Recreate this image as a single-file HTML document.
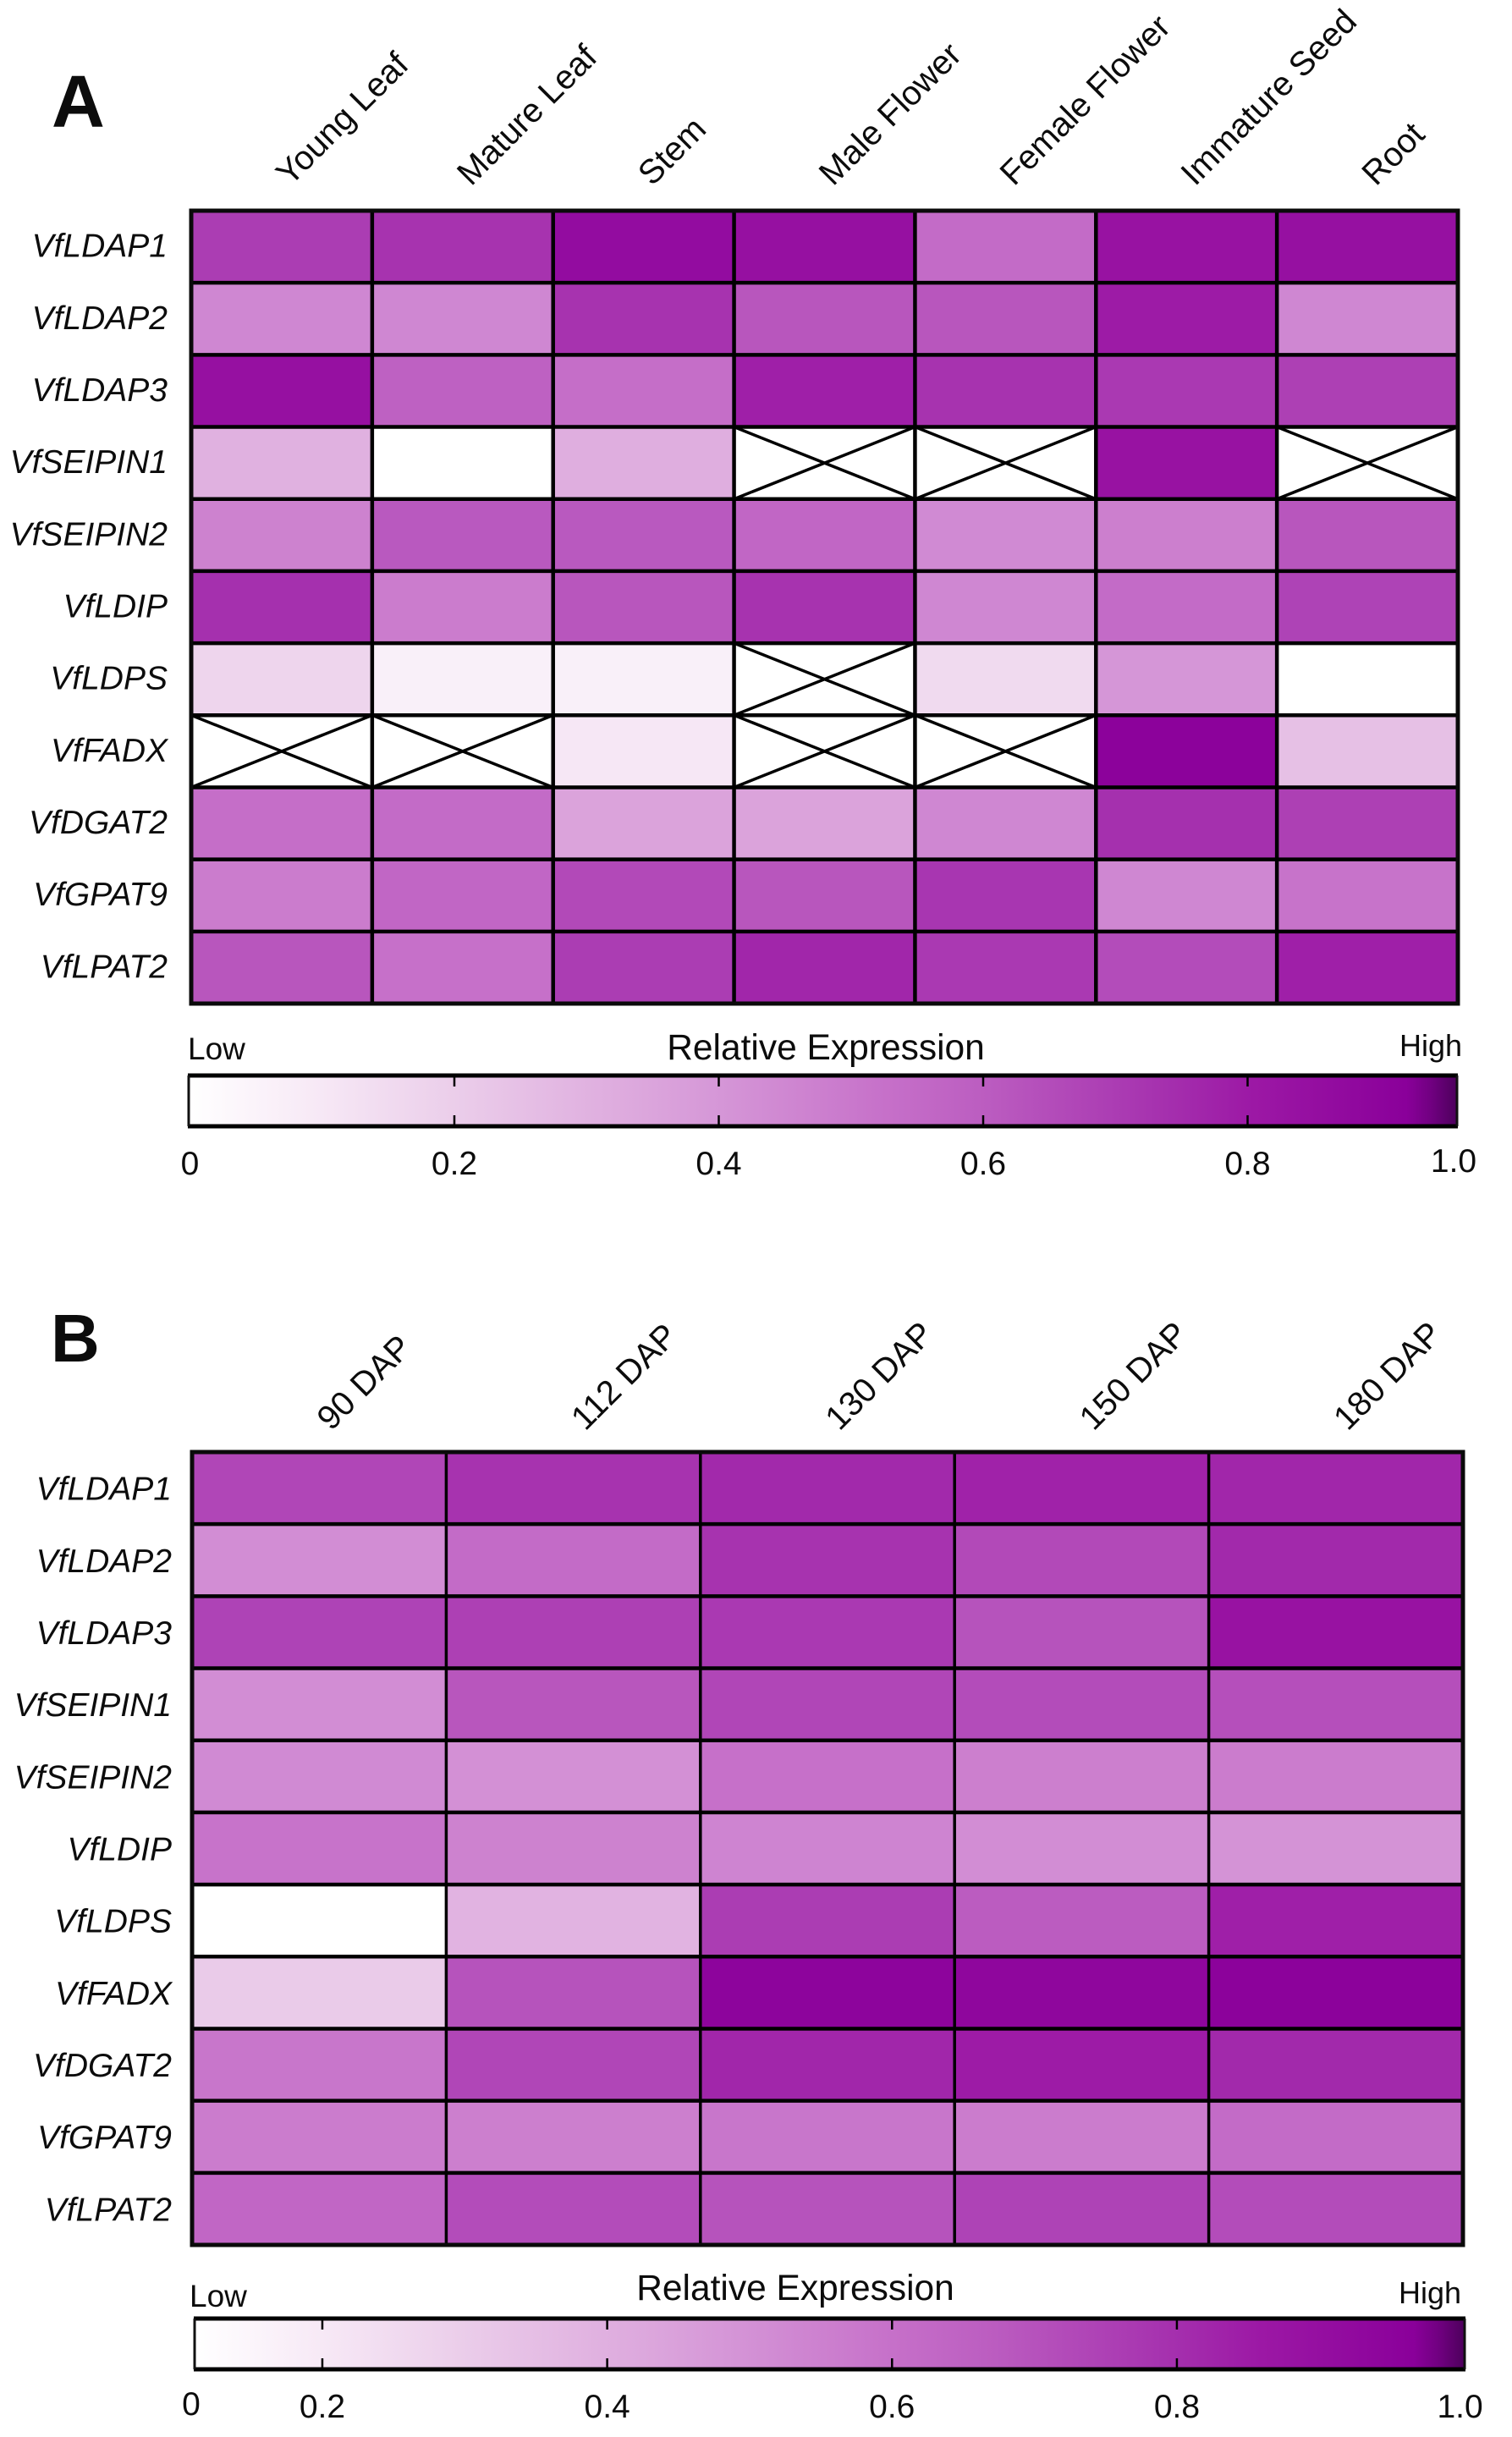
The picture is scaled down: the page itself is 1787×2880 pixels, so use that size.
<!DOCTYPE html>
<html lang="en">
<head>
<meta charset="utf-8">
<title>Relative expression heatmaps</title>
<style>
html,body{margin:0;padding:0;background:#fff;}
svg{display:block;}
text{font-family:"Liberation Sans",Arial,sans-serif;fill:#0c0c0c;}
</style>
</head>
<body>
<svg id="figure" xmlns="http://www.w3.org/2000/svg" width="1787" height="2880" viewBox="0 0 1787 2880">
  <rect x="0" y="0" width="1787" height="2880" fill="#fff"/>
  <defs>
    <linearGradient id="ramp" x1="0" x2="1" y1="0" y2="0"></linearGradient>
  </defs>
</svg>
<script>
const genes = ["VfLDAP1","VfLDAP2","VfLDAP3","VfSEIPIN1","VfSEIPIN2","VfLDIP","VfLDPS","VfFADX","VfDGAT2","VfGPAT9","VfLPAT2"];
const tissues = ["Young Leaf","Mature Leaf","Stem","Male Flower","Female Flower","Immature Seed","Root"];
const stages = ["90 DAP","112 DAP","130 DAP","150 DAP","180 DAP"];
const tissueValues = [
  [.73,.76,.90,.88,.57,.87,.88],
  [.47,.47,.76,.65,.65,.83,.47],
  [.88,.61,.56,.82,.76,.74,.72],
  [.32,0,.33,null,null,.87,null],
  [.49,.64,.64,.59,.46,.50,.65],
  [.77,.51,.65,.76,.47,.57,.71],
  [.18,.07,.07,null,.16,.42,0],
  [null,null,.11,null,null,.95,.26],
  [.56,.57,.37,.37,.47,.77,.72],
  [.51,.59,.69,.65,.75,.47,.54],
  [.65,.55,.73,.80,.74,.68,.82]
];
const stageValues = [
  [.70,.76,.79,.81,.80],
  [.45,.57,.76,.69,.79],
  [.71,.72,.74,.66,.87],
  [.45,.65,.70,.68,.67],
  [.46,.44,.55,.50,.51],
  [.54,.49,.48,.45,.43],
  [0,.31,.73,.63,.82],
  [.22,.66,.94,.93,.95],
  [.53,.70,.80,.83,.79],
  [.51,.50,.53,.51,.57],
  [.59,.68,.66,.71,.68]
];
const rampPositions = [0,.1,.2,.33,.42,.55,.63,.77,.84,.96,.98,1];
const rampColors = ["#ffffff","#f7e9f6","#ecd0eb","#dfaedf","#d596d7","#c670c9","#bb5cc0","#a530ae","#9c18a5","#8a009a","#700080","#4d005c"];
const scaleTicks = [0,.2,.4,.6,.8,1];
const scaleTickLabels = ["0","0.2","0.4","0.6","0.8","1.0"];

const NS = "http://www.w3.org/2000/svg";
const svg = document.getElementById("figure");

function hexToRgb(h){return [parseInt(h.slice(1,3),16),parseInt(h.slice(3,5),16),parseInt(h.slice(5,7),16)];}
function colorScale(v){
  const t=Math.max(0,Math.min(1,v));
  let i=0;
  while(i<rampPositions.length-2&&t>rampPositions[i+1])i++;
  const f=(t-rampPositions[i])/(rampPositions[i+1]-rampPositions[i]);
  const a=hexToRgb(rampColors[i]),b=hexToRgb(rampColors[i+1]);
  return "rgb("+a.map((c,k)=>Math.round(c+(b[k]-c)*f)).join(",")+")";
}
function make(tag,attrs,parent,txt){
  const el=document.createElementNS(NS,tag);
  for(const k in attrs)el.setAttribute(k,attrs[k]);
  if(txt!==undefined)el.textContent=txt;
  (parent||svg).appendChild(el);
  return el;
}

const gradient=document.getElementById("ramp");
rampPositions.forEach((p,i)=>{
  const stop=make("stop",{offset:p,"stop-color":rampColors[i]},gradient);
  
  
});

function drawHeatmap(cfg){
  const group=make("g",{});
  
  
  const nRows=cfg.rows.length,nCols=cfg.cols.length;
  const xScale=c=>cfg.left+(cfg.right-cfg.left)*c/nCols;
  const yScale=r=>cfg.top+(cfg.bottom-cfg.top)*r/nRows;

  cfg.values.forEach((row,r)=>{
    row.forEach((v,c)=>{
      const x0=xScale(c),x1=xScale(c+1),y0=yScale(r),y1=yScale(r+1);
      const cell=make("rect",{x:x0,y:y0,width:x1-x0,height:y1-y0,fill:v===null?"#fff":colorScale(v)},group);
      
      
      if(v===null){
        const d1=make("line",{x1:x0,y1:y0,x2:x1,y2:y1,stroke:"#000","stroke-width":3.5},group);
        
        
        const d2=make("line",{x1:x0,y1:y1,x2:x1,y2:y0,stroke:"#000","stroke-width":3.5},group);
        
        
      }
    });
  });
  for(let c=1;c<nCols;c++){
    const l=make("line",{x1:xScale(c),x2:xScale(c),y1:cfg.top,y2:cfg.bottom,stroke:"#000","stroke-width":cfg.vw},group);
    
    
  }
  for(let r=1;r<nRows;r++){
    const l=make("line",{x1:cfg.left,x2:cfg.right,y1:yScale(r),y2:yScale(r),stroke:"#000","stroke-width":4.5},group);
    
    
  }
  const frame=make("rect",{x:cfg.left,y:cfg.top,width:cfg.right-cfg.left,height:cfg.bottom-cfg.top,fill:"none",stroke:"#0a0a0a","stroke-width":5},group);
  
  

  cfg.rows.forEach((g,r)=>{
    const t=make("text",{x:cfg.labelRight,y:(yScale(r)+yScale(r+1))/2+cfg.labelDy,"text-anchor":"end","font-size":39,"font-style":"italic"},group,g);
    
    
  });
  cfg.cols.forEach((name,c)=>{
    const px=(xScale(c)+xScale(c+1))/2+cfg.colDx, py=cfg.colY;
    const t=make("text",{x:px,y:py,"font-size":40,transform:"rotate(-45 "+px+" "+py+")"},group,name);
    
    
  });
}

function drawColorbar(cfg){
  const group=make("g",{});
  
  
  const xOf=v=>Math.max(cfg.left,Math.min(cfg.right,cfg.intercept+cfg.slope*v));
  const bar=make("rect",{x:cfg.left,y:cfg.top,width:cfg.right-cfg.left,height:cfg.bottom-cfg.top,fill:"url(#ramp)"},group);
  
  
  const tb=[[cfg.top,"top"],[cfg.bottom,"bottom"]];
  tb.forEach(p=>{
    const l=make("line",{x1:cfg.left-1,x2:cfg.right+1,y1:p[0],y2:p[0],stroke:"#000","stroke-width":5},group);
    
    
  });
  [cfg.left,cfg.right].forEach(x=>{
    const l=make("line",{x1:x,x2:x,y1:cfg.top,y2:cfg.bottom,stroke:"#111","stroke-width":3},group);
    
    
  });
  scaleTicks.forEach((v,i)=>{
    const x=xOf(v);
    if(i>0&&i<scaleTicks.length-1){
      const a=make("line",{x1:x,x2:x,y1:cfg.top,y2:cfg.top+13,stroke:"#000","stroke-width":2.5},group);
      
      
      const b=make("line",{x1:x,x2:x,y1:cfg.bottom-13,y2:cfg.bottom,stroke:"#000","stroke-width":2.5},group);
      
      
    }
    const dy=i===0?cfg.zeroDy:(i===scaleTicks.length-1?cfg.oneDy:0);
    const dx=i===scaleTicks.length-1?cfg.oneDx:(i===0?cfg.zeroDx:0);
    const t=make("text",{x:x+dx,y:cfg.tickY+dy,"text-anchor":"middle","font-size":39},group,scaleTickLabels[i]);
    
    
  });
  const title=make("text",{x:cfg.titleX,y:cfg.titleY,"text-anchor":"middle","font-size":42.5},group,"Relative Expression");
  
  
  const low=make("text",{x:cfg.lowX,y:cfg.lowY,"font-size":37},group,"Low");
  
  
  const high=make("text",{x:cfg.highX,y:cfg.highY,"font-size":36,"text-anchor":"end"},group,"High");
  
  
}

const letterA=make("text",{x:61,y:150,"font-size":87,"font-weight":"bold"},svg,"A");


const letterB=make("text",{x:60,y:1609,"font-size":80,"font-weight":"bold"},svg,"B");



drawHeatmap({name:"tissue",rows:genes,cols:tissues,values:tissueValues,left:226,right:1723,top:249,bottom:1186,vw:4.5,labelRight:198,labelDy:12,colDx:10,colY:221});
drawHeatmap({name:"stage",rows:genes,cols:stages,values:stageValues,left:227,right:1729,top:1716,bottom:2653,vw:3.5,labelRight:203,labelDy:14,colDx:14,colY:1692});

drawColorbar({name:"tissue",left:223,right:1722,top:1271,bottom:1331,intercept:224.5,slope:1562.5,tickY:1388,zeroDy:0,zeroDx:0,oneDy:-3,oneDx:-4,titleX:976,titleY:1252,lowX:222,lowY:1252,highX:1728,highY:1248});
drawColorbar({name:"stage",left:230,right:1731,top:2740,bottom:2800,intercept:44.3,slope:1683.3,tickY:2857,zeroDy:-3,zeroDx:-4,oneDy:0,oneDx:-2,titleX:940,titleY:2718,lowX:224,lowY:2726,highX:1727,highY:2722});
</script>
</body>
</html>
